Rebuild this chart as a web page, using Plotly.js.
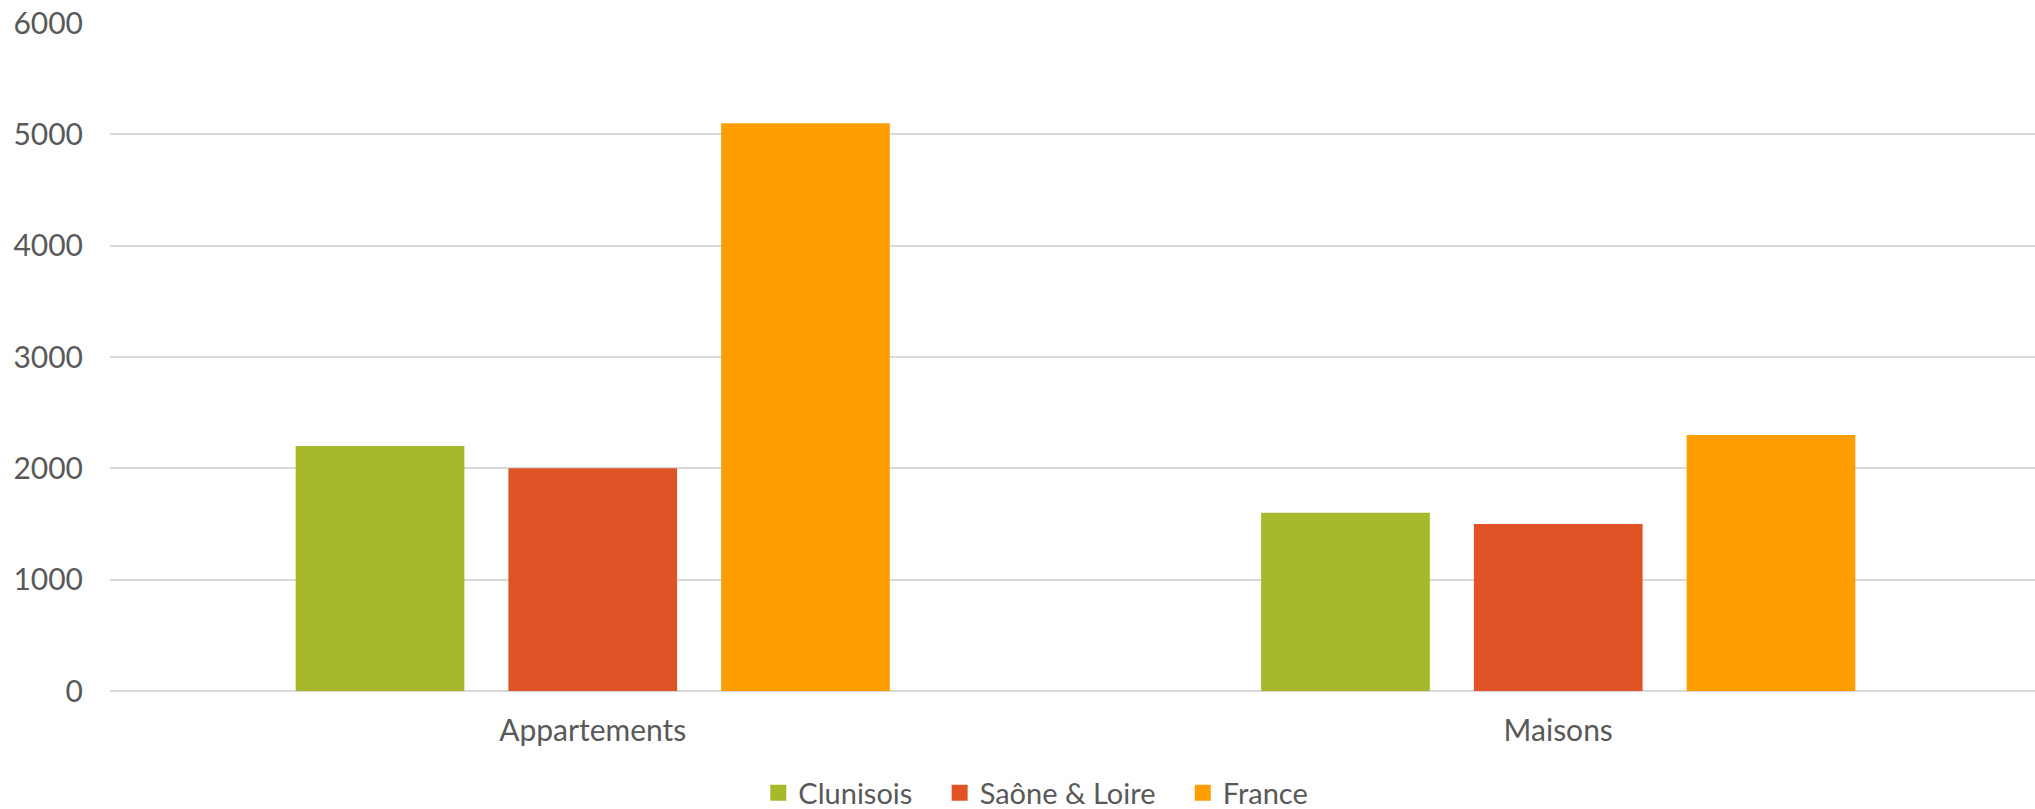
<!DOCTYPE html>
<html>
<head>
<meta charset="utf-8">
<script src="https://cdn.plot.ly/plotly-3.0.1.min.js"></script>
<style>html,body{margin:0;padding:0;background:#fff;}#chart{width:2035px;height:809px;}</style>
</head>
<body>
<div id="chart"></div>
<script>
const categories = ["Appartements", "Maisons"];
const seriesNames = ["Clunisois", "Saône & Loire", "France"];
const clunisois = [2200, 1600];
const saoneLoire = [2000, 1500];
const france = [5100, 2300];
const yTicks = [0, 1000, 2000, 3000, 4000, 5000, 6000];

const colors = ["#A7B82A", "#E05327", "#FF9E00"];
const values = [clunisois, saoneLoire, france];

const font = {family: "Lato, 'Open Sans', sans-serif", color: "#595959"};

const barTraces = seriesNames.map((name, i) => ({
  type: "bar",
  name: name,
  legendgroup: name,
  showlegend: false,
  x: categories,
  y: values[i],
  marker: {color: colors[i], line: {width: 0}},
  hoverinfo: "x+y+name"
}));

// legend-only entries with larger square swatches (trailing spaces widen item spacing)
const pad = "\u00a0\u00a0\u00a0";
const legendTraces = seriesNames.map((name, i) => ({
  type: "scatter",
  mode: "markers",
  name: i < seriesNames.length - 1 ? name + pad : name,
  legendgroup: name,
  showlegend: true,
  x: [null],
  y: [null],
  marker: {color: colors[i], symbol: "square", size: 16},
  hoverinfo: "skip"
}));

const layout = {
  width: 2035,
  height: 809,
  margin: {l: 110, r: 0, t: 23, b: 118},
  paper_bgcolor: "#ffffff",
  plot_bgcolor: "#ffffff",
  barmode: "group",
  bargap: 0.339,
  bargroupgap: 0.207,
  font: Object.assign({size: 24}, font),
  xaxis: {
    type: "category",
    range: [-0.5, 1.4938],
    showgrid: false,
    zeroline: false,
    showline: false,
    ticks: "",
    ticklabelstandoff: 19,
    tickfont: Object.assign({size: 30}, font)
  },
  yaxis: {
    range: [0, 6000],
    tickvals: yTicks,
    ticktext: yTicks.map(String),
    showgrid: true,
    gridcolor: "#D9D9D9",
    gridwidth: 2,
    zeroline: true,
    zerolinecolor: "#D9D9D9",
    zerolinewidth: 2,
    showline: false,
    ticks: "",
    ticklabelstandoff: 26,
    tickfont: Object.assign({size: 30}, font)
  },
  showlegend: true,
  legend: {
    orientation: "h",
    xref: "container",
    yref: "container",
    x: 0.509,
    xanchor: "center",
    y: 0.02,
    yanchor: "middle",
    font: Object.assign({size: 29}, font),
    itemwidth: 30,
    tracegroupgap: 0,
    itemclick: false,
    itemdoubleclick: false
  }
};

Plotly.newPlot("chart", barTraces.concat(legendTraces), layout, {displayModeBar: false});
</script>
</body>
</html>
